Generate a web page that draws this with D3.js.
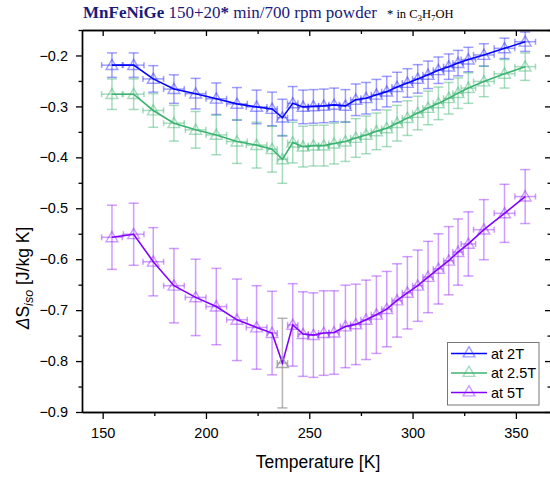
<!DOCTYPE html>
<html><head><meta charset="utf-8">
<script src="https://cdn.jsdelivr.net/npm/d3@7"></script>
<style>
body{margin:0;background:#fff;}
svg{display:block;}
</style></head>
<body>
<svg id="c" width="550" height="478"></svg>
<script>
const temps = [154.5,165,174.5,184.5,195,205,215,224.5,232,237,242,247,252,257,262,267.5,272.5,277.5,282.5,287.5,292.5,297.5,302.5,307.5,312.5,317.5,322,327,334.5,344.5,354.5];
const tempErr = [5,5,5,5,5,5,5,5,2.5,2.5,2.5,2.5,2.5,2.5,2.5,2.5,2.5,2.5,2.5,2.5,2.5,2.5,2.5,2.5,2.5,2.5,2.5,3.5,5,5,5];

const s2T = [-0.219,-0.219,-0.246,-0.266,-0.275,-0.285,-0.295,-0.301,-0.305,-0.322,-0.294,-0.301,-0.300,-0.299,-0.297,-0.299,-0.287,-0.284,-0.277,-0.271,-0.262,-0.254,-0.246,-0.238,-0.229,-0.222,-0.215,-0.208,-0.199,-0.186,-0.173];
const e2T = [0.024,0.024,0.026,0.028,0.030,0.031,0.032,0.033,0.033,0.036,0.033,0.033,0.033,0.033,0.033,0.032,0.031,0.031,0.030,0.030,0.029,0.028,0.028,0.027,0.026,0.025,0.025,0.024,0.022,0.020,0.019];

const s25T = [-0.276,-0.276,-0.308,-0.333,-0.346,-0.356,-0.369,-0.376,-0.384,-0.404,-0.371,-0.379,-0.377,-0.377,-0.373,-0.369,-0.362,-0.356,-0.349,-0.343,-0.333,-0.323,-0.313,-0.303,-0.294,-0.284,-0.274,-0.264,-0.251,-0.236,-0.222];
const e25T = [0.030,0.030,0.033,0.035,0.036,0.039,0.043,0.045,0.045,0.047,0.040,0.040,0.040,0.040,0.040,0.039,0.038,0.037,0.036,0.036,0.035,0.034,0.033,0.033,0.032,0.031,0.030,0.030,0.030,0.028,0.027];

const s5T = [-0.557,-0.551,-0.605,-0.652,-0.675,-0.693,-0.719,-0.734,-0.745,-0.804,-0.729,-0.747,-0.749,-0.745,-0.744,-0.732,-0.728,-0.719,-0.709,-0.698,-0.681,-0.666,-0.652,-0.635,-0.619,-0.603,-0.586,-0.570,-0.542,-0.510,-0.477];
const e5T = [0.063,0.061,0.067,0.073,0.075,0.075,0.080,0.082,0.082,0.088,0.081,0.083,0.083,0.083,0.082,0.081,0.079,0.078,0.076,0.074,0.072,0.071,0.070,0.070,0.069,0.067,0.065,0.063,0.059,0.057,0.053];

const seriesNames = ["at 2T","at 2.5T","at 5T"];
const xTicks = [150,200,250,300,350];
const xMinorTicks = [175,225,275,325];
const yTicks = [-0.9,-0.8,-0.7,-0.6,-0.5,-0.4,-0.3,-0.2];
const yMinorTicks = [-0.85,-0.75,-0.65,-0.55,-0.45,-0.35,-0.25,-0.15];

const series = [
  {name:seriesNames[0], vals:s2T, errs:e2T, line:"#0000ff", light:"rgba(40,40,255,0.45)"},
  {name:seriesNames[1], vals:s25T, errs:e25T, line:"#3cb371", light:"rgba(60,179,113,0.45)"},
  {name:seriesNames[2], vals:s5T, errs:e5T, line:"#8000ff", light:"rgba(140,20,255,0.42)"}
];

const svg = d3.select("#c");
const L=82, R=551, T=30, B=412;
const x = d3.scaleLinear().domain([140,367]).range([L,R]);
const y = d3.scaleLinear().domain([-0.9,-0.15]).range([B,T]);
const font = "'Liberation Sans', Arial, sans-serif";

const tri = d3.symbol().type(d3.symbolTriangle).size(60);
series.forEach((s,si)=>{
  const g = svg.append("g");
  s.vals.forEach((v,i)=>{
    const isGray = (si===2 && i===9);
    const col = isGray ? "rgba(150,150,150,0.7)" : s.light;
    const cx = x(temps[i]), cy = y(v);
    const y1 = y(v + s.errs[i]), y2 = y(v - s.errs[i]);
    const x1 = x(temps[i]-tempErr[i]), x2 = x(temps[i]+tempErr[i]);
    g.append("line").attr("x1",cx).attr("x2",cx).attr("y1",y1).attr("y2",y2).attr("stroke",col).attr("stroke-width",1.5);
    g.append("line").attr("x1",cx-5).attr("x2",cx+5).attr("y1",y1).attr("y2",y1).attr("stroke",col).attr("stroke-width",1.5);
    g.append("line").attr("x1",cx-5).attr("x2",cx+5).attr("y1",y2).attr("y2",y2).attr("stroke",col).attr("stroke-width",1.5);
    g.append("line").attr("x1",x1).attr("x2",x2).attr("y1",cy).attr("y2",cy).attr("stroke",col).attr("stroke-width",1.5);
    g.append("line").attr("x1",x1).attr("x2",x1).attr("y1",cy-3).attr("y2",cy+3).attr("stroke",col).attr("stroke-width",1.5);
    g.append("line").attr("x1",x2).attr("x2",x2).attr("y1",cy-3).attr("y2",cy+3).attr("stroke",col).attr("stroke-width",1.5);
  });
});
series.forEach((s,si)=>{
  const line = d3.line().x((d,i)=>x(temps[i])).y(d=>y(d));
  svg.append("path").datum(s.vals).attr("d",line).attr("fill","none").attr("stroke",s.line).attr("stroke-width",1.6);
});
series.forEach((s,si)=>{
  s.vals.forEach((v,i)=>{
    const isGray = (si===2 && i===9);
    svg.append("path").attr("d",tri).attr("transform",`translate(${x(temps[i])},${y(v)+1})`)
      .attr("fill","none").attr("stroke", isGray ? "rgba(150,150,150,0.8)" : s.light).attr("stroke-width",1.4);
  });
});

function styleAxis(g){
  g.selectAll("path.domain").attr("stroke","#000").attr("stroke-width",1.4);
  g.selectAll(".tick line").attr("stroke","#000").attr("stroke-width",1.3);
  g.selectAll(".tick text").attr("font-family",font).attr("font-size","14.5px").attr("fill","#000");
}
const gx = svg.append("g").attr("transform",`translate(0,${B})`)
  .call(d3.axisBottom(x).tickValues(xTicks).tickSize(7).tickSizeOuter(0).tickPadding(9).tickFormat(d3.format("d")));
styleAxis(gx);
const gxm = svg.append("g").attr("transform",`translate(0,${B})`)
  .call(d3.axisBottom(x).tickValues(xMinorTicks).tickSize(4).tickSizeOuter(0).tickFormat(""));
styleAxis(gxm);
const gy = svg.append("g").attr("transform",`translate(${L},0)`)
  .call(d3.axisLeft(y).tickValues(yTicks).tickSize(6).tickSizeOuter(0).tickPadding(8).tickFormat(d3.format(".1f")));
styleAxis(gy);
const gym = svg.append("g").attr("transform",`translate(${L},0)`)
  .call(d3.axisLeft(y).tickValues(yMinorTicks).tickSize(3.5).tickSizeOuter(0).tickFormat(""));
styleAxis(gym);
const gt = svg.append("g").attr("transform",`translate(0,${T})`)
  .call(d3.axisTop(x).tickValues(xTicks).tickSize(-6).tickSizeOuter(0).tickFormat(""));
styleAxis(gt);
const gtm = svg.append("g").attr("transform",`translate(0,${T})`)
  .call(d3.axisTop(x).tickValues(xMinorTicks).tickSize(-4).tickSizeOuter(0).tickFormat(""));
styleAxis(gtm);
const gr = svg.append("g").attr("transform",`translate(${R},0)`)
  .call(d3.axisRight(y).tickValues(yTicks).tickSize(-6).tickSizeOuter(0).tickFormat(""));
styleAxis(gr);
const grm = svg.append("g").attr("transform",`translate(${R},0)`)
  .call(d3.axisRight(y).tickValues(yMinorTicks).tickSize(-3.5).tickSizeOuter(0).tickFormat(""));
styleAxis(grm);

svg.append("text").attr("x",318).attr("y",468).attr("text-anchor","middle")
  .attr("font-family",font).attr("font-size","17.5px").text("Temperature [K]");
const yl = svg.append("text").attr("transform","translate(29,278) rotate(-90)").attr("text-anchor","middle")
  .attr("font-family",font).attr("font-size","17.5px");
yl.append("tspan").attr("font-style","italic").text("Δ");
yl.append("tspan").text("S");
yl.append("tspan").attr("font-style","italic").attr("font-size","12.5px").attr("dy",4).text("iso");
yl.append("tspan").attr("dy",-4).text(" [J/kg K]");

const tt = svg.append("text").attr("x",83).attr("y",18).attr("font-family","'Liberation Serif', 'Times New Roman', serif")
  .attr("font-size","17px").attr("fill","#1a1a7a");
tt.append("tspan").attr("font-weight","bold").text("MnFeNiGe");
tt.append("tspan").text(" 150+20");
tt.append("tspan").attr("font-weight","bold").text("*");
tt.append("tspan").text(" min/700 rpm powder");
const t2 = svg.append("text").attr("x",387).attr("y",18).attr("font-family","'Liberation Serif', 'Times New Roman', serif")
  .attr("font-size","12.5px").attr("fill","#000");
t2.append("tspan").text("* in C");
t2.append("tspan").attr("font-size","9px").attr("dy",3).text("3");
t2.append("tspan").attr("dy",-3).text("H");
t2.append("tspan").attr("font-size","9px").attr("dy",3).text("7");
t2.append("tspan").attr("dy",-3).text("OH");

const lg = svg.append("g");
lg.append("rect").attr("x",447.5).attr("y",342.5).attr("width",91.5).attr("height",62.5)
  .attr("fill","#fff").attr("stroke","#777").attr("stroke-width",1);
series.forEach((s,i)=>{
  const yy = 353.5 + i*19.5;
  lg.append("line").attr("x1",451).attr("x2",487).attr("y1",yy).attr("y2",yy).attr("stroke",s.line).attr("stroke-width",1.6);
  lg.append("path").attr("d",tri).attr("transform",`translate(469,${yy})`).attr("fill","none").attr("stroke",s.light).attr("stroke-width",1.4);
  lg.append("text").attr("x",491).attr("y",yy+5).attr("font-family",font).attr("font-size","14.5px").text(s.name);
});
</script>
</body></html>
